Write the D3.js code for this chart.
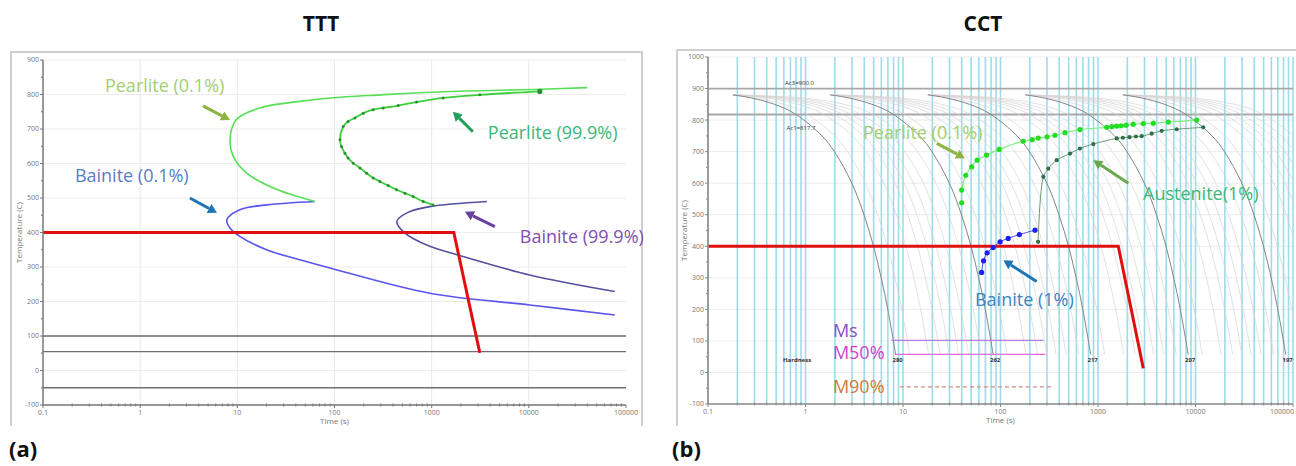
<!DOCTYPE html>
<html lang="en">
<head>
<meta charset="UTF-8">
<title>TTT / CCT</title>
<script src="https://d3js.org/d3.v7.min.js"></script>
<style>
    body { margin: 0; background: #fff; }
    svg { display: block; font-family: "Open Sans", sans-serif; }
    .tick-label { font-size: 7px; fill: #777; }
    .axis-title { font-size: 8px; fill: #777; }
    .ann { font-size: 18px; }
    .title { font-size: 21px; font-weight: bold; fill: #111; }
    .panel-tag { font-size: 22px; font-weight: bold; fill: #111; }
    .tiny { font-size: 6px; fill: #333; }
</style>
</head>
<body>
<script>
// ---------- shared axis data ----------
const timeTicks = [0.1, 1, 10, 100, 1000, 10000, 100000];
const timeTickLabels = ["0.1", "1", "10", "100", "1000", "10000", "100000"];
const tttTempTicks = [-100, 0, 100, 200, 300, 400, 500, 600, 700, 800, 900];
const cctTempTicks = [-100, 0, 100, 200, 300, 400, 500, 600, 700, 800, 900, 1000];

// ---------- TTT data: [time s, temperature C] ----------
const tttPearlite01 = [[40000, 820], [13000, 815], [1300, 808], [300, 799], [90, 790], [44, 780],
    [17, 761], [9.7, 726], [8.4, 668], [9.1, 620], [12.5, 572], [23.4, 529], [63, 490]];
const tttPearlite999 = [[12980, 809], [3130, 799], [1312, 790], [699, 778], [452, 768], [317, 761],
    [250, 756], [198, 746], [162, 732], [138, 722], [123, 707], [114, 669], [118, 649], [128, 630],
    [138, 616], [156, 601], [183, 587], [214, 572], [250, 558], [293, 548], [357, 536], [435, 524],
    [530, 514], [645, 504], [818, 490], [1035, 480]];
const tttBainite01 = [[63, 490], [20, 480], [10.6, 466], [7.8, 437], [8.4, 413], [10.6, 389],
    [20, 350], [44, 321], [90, 297], [955, 224], [10200, 190], [76700, 161]];
const tttBainite999 = [[3700, 490], [955, 475], [556, 457], [438, 432], [527, 399], [955, 360],
    [1860, 335], [10200, 277], [76700, 229]];
const tttCooling = [[0.1, 400], [1690, 400], [3130, 51]];
const tttMartensiteTemps = [100, 55, -50];

// ---------- CCT data ----------
// one cooling-curve shape: [time / start time, temperature]
const coolShape = [[1, 880], [1.56, 870], [2.67, 850], [4.33, 820], [8.2, 750], [11, 700],
    [16.6, 600], [22.1, 500], [27.7, 400], [33.2, 300], [38.8, 200], [44.3, 100], [46.7, 57]];
const coolStarts = [0.18, 1.8, 18, 180, 1800];
const hardness = ["280", "262", "217", "207", "197"];
const faintStretch = [1.4, 2.2, 2.9, 3.6, 4.5, 5.7, 7.7];
const acLines = [900, 817.7];
const acLabels = ["Ac3=900.0", "Ac1=817.7"];

const cctPearlite01 = [[40, 538], [40, 578], [44, 625], [50.6, 652], [57.6, 673], [72, 689],
    [97, 707], [171, 733], [212, 738], [244, 743], [300, 747], [362, 752], [459, 760], [653, 770],
    [1230, 777], [1384, 779], [1550, 781], [1730, 782], [1940, 784], [2300, 787], [2916, 789],
    [3690, 790], [5260, 794], [10280, 800]];
const cctAustenite1 = [[243, 414], [275, 620], [309, 646], [377, 673], [516, 694], [653, 710],
    [895, 724], [1555, 742], [1800, 744], [2100, 746], [2450, 748], [2800, 749], [3550, 757],
    [4500, 766], [6410, 771], [12000, 777]];
const cctBainite1 = [[64, 317], [67, 354], [73, 379], [84, 396], [99, 414], [120, 425], [156, 437], [226, 451]];
const cctCooling = [[0.1, 400], [1615, 400], [2916, 13]];
const cctMs = [[7.6, 102], [275, 102]];
const cctM50 = [[8.2, 57], [290, 57]];
const cctM90 = [[9.3, -46], [330, -46]];

// ---------- helpers ----------
const svg = d3.select("body").append("svg")
    .attr("width", 1296)
    .attr("height", 466);

const defs = svg.append("defs");

function minorTimes() {
    const out = [];
    for (let d = 0.1; d < 100000; d *= 10) {
        for (let k = 2; k <= 9; k++) out.push(d * k);
    }
    return out;
}

function drawArrow(g, x, y, p0, p1, color) {
    const x0 = x(p0[0]), y0 = y(p0[1]), x1 = x(p1[0]), y1 = y(p1[1]);
    const a = Math.atan2(y1 - y0, x1 - x0);
    const head = 9, half = 5;
    const bx = x1 - head * Math.cos(a), by = y1 - head * Math.sin(a);
    g.append("line")
        .attr("x1", x0).attr("y1", y0).attr("x2", bx).attr("y2", by)
        .attr("stroke", color).attr("stroke-width", 3);
    g.append("path")
        .attr("d", `M${x1},${y1} L${bx + half * Math.sin(a)},${by - half * Math.cos(a)} L${bx - half * Math.sin(a)},${by + half * Math.cos(a)} Z`)
        .attr("fill", color);
}

function drawAxes(g, x, y, temps, axisColor, clipLast) {
    const [x0, x1] = x.range();
    const [yb, yt] = y.range();
    const ax = g.append("g");
    ax.append("line").attr("x1", x0).attr("x2", x0).attr("y1", yt).attr("y2", yb)
        .attr("stroke", axisColor).attr("stroke-width", 1.5);
    ax.append("line").attr("x1", x0).attr("x2", x1).attr("y1", yb).attr("y2", yb)
        .attr("stroke", axisColor).attr("stroke-width", 1.5);
    temps.forEach(t => {
        ax.append("line").attr("x1", x0 - 3).attr("x2", x0).attr("y1", y(t)).attr("y2", y(t))
            .attr("stroke", axisColor);
        if (t + 50 <= y.domain()[1]) {
            ax.append("line").attr("x1", x0 - 2).attr("x2", x0).attr("y1", y(t + 50)).attr("y2", y(t + 50))
                .attr("stroke", axisColor);
        }
        ax.append("text").attr("class", "tick-label")
            .attr("x", x0 - 4).attr("y", y(t)).attr("dy", "0.35em")
            .attr("text-anchor", "end").text(t);
    });
    minorTimes().forEach(t => {
        ax.append("line").attr("x1", x(t)).attr("x2", x(t)).attr("y1", yb - 1.5).attr("y2", yb + 1.5)
            .attr("stroke", axisColor);
    });
    timeTicks.forEach((t, i) => {
        const last = clipLast && i === timeTicks.length - 1;
        ax.append("line").attr("x1", x(t)).attr("x2", x(t)).attr("y1", yb).attr("y2", yb + 3)
            .attr("stroke", axisColor);
        ax.append("text").attr("class", "tick-label")
            .attr("x", last ? x(t) + 1 : x(t)).attr("y", yb + 10)
            .attr("text-anchor", last ? "end" : "middle").text(timeTickLabels[i]);
    });
    ax.append("text").attr("class", "axis-title")
        .attr("x", (x0 + x1) / 2).attr("y", yb + 19)
        .attr("text-anchor", "middle").text("Time (s)");
    ax.append("text").attr("class", "axis-title")
        .attr("transform", `translate(${x0 - 21},${(yb + yt) / 2}) rotate(-90)`)
        .attr("text-anchor", "middle").text("Temperature (C)");
}

function label(g, x, y, pos, text, color) {
    g.append("text").attr("class", "ann")
        .attr("x", x(pos[0])).attr("y", y(pos[1]))
        .attr("fill", color).text(text);
}

// ================= TTT panel =================
const xT = d3.scaleLog().domain([0.1, 100000]).range([43, 626]);
const yT = d3.scaleLinear().domain([-100, 900]).range([405, 60]);
const gT = svg.append("g");

gT.append("path").attr("d", "M11,426 V52 H642 V426")
    .attr("fill", "none").attr("stroke", "#cfcfcf").attr("stroke-width", 2);

// grid
timeTicks.slice(1, -1).forEach(t => {
    gT.append("line").attr("x1", xT(t)).attr("x2", xT(t)).attr("y1", yT(900)).attr("y2", yT(-100))
        .attr("stroke", "#e9e9e9");
});
tttTempTicks.forEach(t => {
    gT.append("line").attr("x1", xT(0.1)).attr("x2", xT(100000)).attr("y1", yT(t)).attr("y2", yT(t))
        .attr("stroke", "#ededed");
});

tttMartensiteTemps.forEach(t => {
    gT.append("line").attr("x1", xT(0.1)).attr("x2", xT(100000)).attr("y1", yT(t)).attr("y2", yT(t))
        .attr("stroke", "#6e6e6e").attr("stroke-width", 1.3);
});

const lineT = d3.line().x(d => xT(d[0])).y(d => yT(d[1])).curve(d3.curveCatmullRom.alpha(0.5));

gT.append("path").datum(tttBainite999).attr("d", lineT)
    .attr("fill", "none").attr("stroke", "#55509e").attr("stroke-width", 1.6);
gT.append("path").datum(tttBainite01).attr("d", lineT)
    .attr("fill", "none").attr("stroke", "#5a55ee").attr("stroke-width", 1.6);
gT.append("path").datum(tttPearlite01).attr("d", lineT)
    .attr("fill", "none").attr("stroke", "#55e055").attr("stroke-width", 1.6);
gT.append("path").datum(tttPearlite999).attr("d", lineT)
    .attr("fill", "none").attr("stroke", "#3ccf3c").attr("stroke-width", 1.8);
gT.selectAll(".p999dot").data(tttPearlite999).join("circle")
    .attr("cx", d => xT(d[0])).attr("cy", d => yT(d[1]))
    .attr("r", (d, i) => i === 0 ? 2.6 : 1.5).attr("fill", "#2a8f34");

gT.append("path").datum(tttCooling)
    .attr("d", d3.line().x(d => xT(d[0])).y(d => yT(d[1])))
    .attr("fill", "none").attr("stroke", "#e01010").attr("stroke-width", 3);

drawAxes(gT, xT, yT, tttTempTicks, "#777", false);

label(gT, xT, yT, [0.434, 807], "Pearlite (0.1%)", "#a3cf6e");
label(gT, xT, yT, [0.213, 546], "Bainite (0.1%)", "#5a7dc8");
label(gT, xT, yT, [3785, 671], "Pearlite (99.9%)", "#3bb878");
label(gT, xT, yT, [8070, 370], "Bainite (99.9%)", "#8050b0");
drawArrow(gT, xT, yT, [4.43, 767], [8.4, 726], "#8db340");
drawArrow(gT, xT, yT, [3.25, 500], [6.17, 457], "#1f74b6");
drawArrow(gT, xT, yT, [2655, 692], [1652, 750], "#22a05a");
drawArrow(gT, xT, yT, [4467, 417], [2198, 460], "#6a3fa0");

svg.append("text").attr("class", "title").attr("x", 321).attr("y", 31)
    .attr("text-anchor", "middle").text("TTT");
svg.append("text").attr("class", "panel-tag").attr("x", 9).attr("y", 457).text("(a)");

// ================= CCT panel =================
const xC = d3.scaleLog().domain([0.1, 100000]).range([708, 1293]);
const yC = d3.scaleLinear().domain([-100, 1000]).range([404, 57]);
const gC = svg.append("g");

defs.append("clipPath").attr("id", "clipC").append("rect")
    .attr("x", 708).attr("y", 57).attr("width", 585).attr("height", 347);

gC.append("path").attr("d", "M677,426 V50 H1296")
    .attr("fill", "none").attr("stroke", "#cfcfcf").attr("stroke-width", 2);

cctTempTicks.forEach(t => {
    gC.append("line").attr("x1", xC(0.1)).attr("x2", xC(100000)).attr("y1", yC(t)).attr("y2", yC(t))
        .attr("stroke", "#ececec");
});
timeTicks.concat(minorTimes()).forEach(t => {
    gC.append("line").attr("x1", xC(t)).attr("x2", xC(t)).attr("y1", yC(1000)).attr("y2", yC(-100))
        .attr("stroke", "#9edcec").attr("stroke-width", 1.6);
});

acLines.forEach(t => {
    gC.append("line").attr("x1", xC(0.1)).attr("x2", xC(100000)).attr("y1", yC(t)).attr("y2", yC(t))
        .attr("stroke", "#a8a8a8").attr("stroke-width", 1.8);
});
gC.append("text").attr("class", "tiny").attr("x", xC(0.617)).attr("y", yC(911)).text(acLabels[0]);
gC.append("text").attr("class", "tiny").attr("x", xC(0.64)).attr("y", yC(768)).text(acLabels[1]);

const lineC = d3.line().x(d => xC(d[0])).y(d => yC(d[1])).curve(d3.curveCatmullRom.alpha(0.5));
const curves = gC.append("g").attr("clip-path", "url(#clipC)");

coolStarts.forEach(t0 => {
    faintStretch.forEach(s => {
        const pts = coolShape.map(([r, T]) => [t0 * (1 + s * (r - 1)), T]);
        curves.append("path").datum(pts).attr("d", lineC)
            .attr("fill", "none").attr("stroke", "#d9d3d3").attr("stroke-width", 0.7);
    });
});
coolStarts.forEach((t0, i) => {
    const pts = coolShape.map(([r, T]) => [t0 * r, T]);
    curves.append("path").datum(pts).attr("d", lineC)
        .attr("fill", "none").attr("stroke", "#858585").attr("stroke-width", 1);
    const end = pts[pts.length - 1];
    gC.append("text").attr("class", "tiny").attr("font-weight", "bold")
        .attr("x", xC(end[0]) + 2).attr("y", yC(33)).attr("text-anchor", "middle").text(hardness[i]);
});
gC.append("text").attr("class", "tiny").attr("font-weight", "bold")
    .attr("x", xC(0.587)).attr("y", yC(33)).text("Hardness");

const straight = d3.line().x(d => xC(d[0])).y(d => yC(d[1]));
gC.append("path").datum(cctMs).attr("d", straight).attr("stroke", "#b77ee0").attr("stroke-width", 1.3);
gC.append("path").datum(cctM50).attr("d", straight).attr("stroke", "#e46ad8").attr("stroke-width", 1.3);
gC.append("path").datum(cctM90).attr("d", straight).attr("stroke", "#d88a8a").attr("stroke-width", 1.3)
    .attr("stroke-dasharray", "4,3");

gC.append("path").datum(cctCooling).attr("d", straight)
    .attr("fill", "none").attr("stroke", "#e01010").attr("stroke-width", 3);

// transformation start series
gC.append("path").datum(cctPearlite01).attr("d", lineC)
    .attr("fill", "none").attr("stroke", "#7ef07e").attr("stroke-width", 1.2);
gC.selectAll(".pc").data(cctPearlite01).join("circle")
    .attr("cx", d => xC(d[0])).attr("cy", d => yC(d[1])).attr("r", 2.6).attr("fill", "#22dd22");

gC.append("path").datum(cctAustenite1).attr("d", lineC)
    .attr("fill", "none").attr("stroke", "#6a9a78").attr("stroke-width", 1);
gC.selectAll(".ac").data(cctAustenite1).join("circle")
    .attr("cx", d => xC(d[0])).attr("cy", d => yC(d[1])).attr("r", 2.1).attr("fill", "#2e6e48");

gC.append("path").datum(cctBainite1).attr("d", lineC)
    .attr("fill", "none").attr("stroke", "#4a4af0").attr("stroke-width", 1);
gC.selectAll(".bc").data(cctBainite1).join("circle")
    .attr("cx", d => xC(d[0])).attr("cy", d => yC(d[1])).attr("r", 2.6).attr("fill", "#1f1ff0");

drawAxes(gC, xC, yC, cctTempTicks, "#8a8a8a", true);

label(gC, xC, yC, [3.89, 740], "Pearlite (0.1%)", "#a3cf6e");
label(gC, xC, yC, [2897, 547], "Austenite(1%)", "#3bb878");
label(gC, xC, yC, [54.7, 211], "Bainite (1%)", "#3c84c4");
label(gC, xC, yC, [1.91, 112], "Ms", "#8a4fc0");
label(gC, xC, yC, [1.91, 42], "M50%", "#cc44cc");
label(gC, xC, yC, [1.91, -66], "M90%", "#d07a3a");
drawArrow(gC, xC, yC, [22.2, 726], [43.3, 679], "#8db340");
drawArrow(gC, xC, yC, [2047, 600], [893, 673], "#6aa84f");
drawArrow(gC, xC, yC, [235, 288], [107, 356], "#1f74b6");

svg.append("text").attr("class", "title").attr("x", 983).attr("y", 31)
    .attr("text-anchor", "middle").text("CCT");
svg.append("text").attr("class", "panel-tag").attr("x", 672).attr("y", 457).text("(b)");
</script>
</body>
</html>
